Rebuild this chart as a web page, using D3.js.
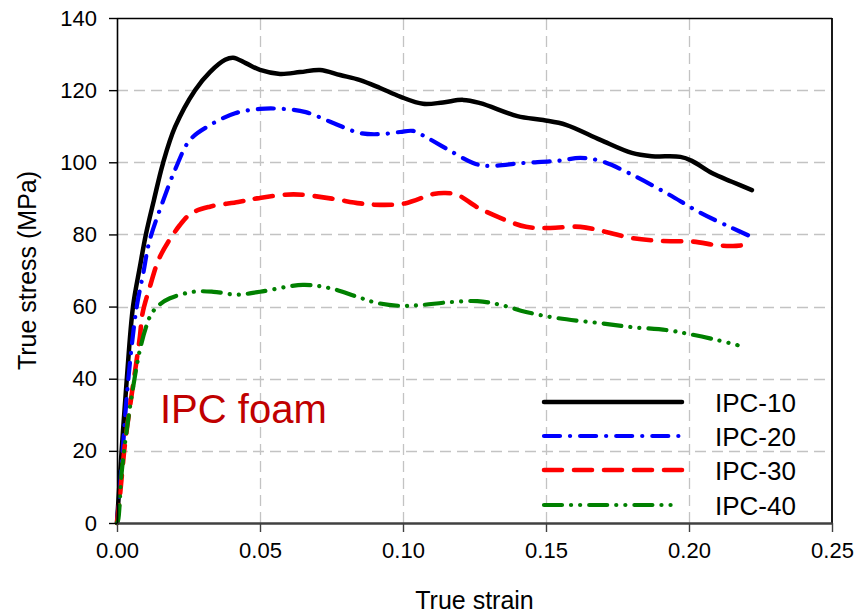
<!DOCTYPE html>
<html>
<head>
<meta charset="utf-8">
<script src="https://cdn.jsdelivr.net/npm/d3@7"></script>
<style>
  html, body { margin: 0; padding: 0; background: #fff; }
  svg { display: block; font-family: "Liberation Sans", Arial, sans-serif; }
</style>
</head>
<body>
<svg id="chart" width="856" height="615"></svg>
<script>
// Tensile true stress–strain curves for IPC foams
const seriesNames = ["IPC-10", "IPC-20", "IPC-30", "IPC-40"];

const strain10 = [0, 0.0016, 0.0034, 0.0056, 0.008, 0.0101, 0.0129, 0.0161, 0.0203, 0.0273, 0.0325, 0.0378, 0.0406, 0.045, 0.05, 0.057, 0.064, 0.071, 0.078, 0.085, 0.092, 0.099, 0.107, 0.114, 0.121, 0.127, 0.140, 0.149, 0.157, 0.169, 0.180, 0.187, 0.197, 0.201, 0.208, 0.215, 0.222];
const stress10 = [0, 19.8, 39.6, 60, 71, 80, 89.5, 99.8, 109.8, 120, 125, 128.4, 129, 127.5, 125.6, 124.5, 125.0, 125.6, 124.2, 122.8, 120.6, 118.2, 116.2, 116.6, 117.3, 116.4, 112.8, 111.7, 110.4, 106.2, 102.6, 101.7, 101.5, 100.4, 97, 94.6, 92.3];

const strain20 = [0, 0.0008, 0.002, 0.0032, 0.005, 0.0069, 0.0092, 0.0113, 0.0156, 0.0205, 0.0255, 0.0325, 0.0413, 0.05, 0.058, 0.066, 0.0756, 0.085, 0.092, 0.099, 0.1035, 0.108, 0.116, 0.1245, 0.129, 0.142, 0.154, 0.162, 0.169, 0.179, 0.192, 0.204, 0.215, 0.222];
const stress20 = [0, 8, 20, 33, 48, 60, 69.3, 78, 88.2, 98.3, 106.2, 110.3, 113.6, 114.8, 114.8, 113.9, 110.9, 108.1, 107.8, 108.4, 108.7, 107, 103.4, 99.8, 99, 99.8, 100.4, 101.2, 100.4, 97, 91.5, 86, 81.8, 79.3];

const strain30 = [0, 0.001, 0.0028, 0.0052, 0.008, 0.0089, 0.0115, 0.015, 0.022, 0.0261, 0.0325, 0.0424, 0.049, 0.0617, 0.0745, 0.085, 0.092, 0.1007, 0.1106, 0.1147, 0.119, 0.1258, 0.134, 0.143, 0.1514, 0.162, 0.171, 0.180, 0.190, 0.2015, 0.2098, 0.2154, 0.222];
const stress30 = [0, 7.3, 22, 36, 51.6, 58, 65.5, 73.8, 82.6, 85.9, 87.7, 89, 90, 91.1, 90, 88.6, 88.2, 88.6, 91.2, 91.5, 91, 87.6, 84.6, 82.1, 81.8, 82.1, 80.7, 79, 78.2, 78, 77, 76.8, 77.3];

const strain40 = [0, 0.0004, 0.0016, 0.0034, 0.0051, 0.008, 0.0104, 0.0121, 0.0148, 0.0185, 0.0267, 0.0337, 0.0418, 0.05, 0.065, 0.0745, 0.084, 0.091, 0.099, 0.106, 0.116, 0.126, 0.134, 0.143, 0.154, 0.169, 0.180, 0.192, 0.200, 0.210, 0.217];
const stress40 = [0, 0.8, 13.8, 25.8, 35, 48, 54.9, 58.1, 60.5, 62.3, 64.1, 64.1, 63.3, 64.1, 66, 65.1, 62.7, 61, 60.2, 60.4, 61.2, 61.5, 60.5, 58.5, 56.8, 55.4, 54.3, 53.5, 52.4, 50.7, 49.3];

const xTicks = [0, 0.05, 0.10, 0.15, 0.20, 0.25];
const yTicks = [0, 20, 40, 60, 80, 100, 120, 140];

const xLabel = "True strain";
const yLabel = "True stress (MPa)";
const noteText = "IPC foam";

// line styles for each series
const styles = [
  { color: "#000000", width: 4.5, dash: null },
  { color: "#0000ff", width: 4.2, dash: "16,10,0.1,10" },
  { color: "#ff0000", width: 4.6, dash: "18,12" },
  { color: "#008000", width: 4.2, dash: "18,9,0.1,9,0.1,9" }
];

const series = [
  d3.zip(strain10, stress10),
  d3.zip(strain20, stress20),
  d3.zip(strain30, stress30),
  d3.zip(strain40, stress40)
];

const svg = d3.select("#chart");
const plotL = 117, plotR = 832, plotT = 18, plotB = 523;

const x = d3.scaleLinear().domain([0, 0.25]).range([plotL, plotR]);
const y = d3.scaleLinear().domain([0, 140]).range([plotB, plotT]);

// grid
const grid = svg.append("g").attr("stroke", "#c3c3c3").attr("stroke-width", 1.3)
  .attr("stroke-dasharray", "11,6");
grid.selectAll("line.h").data(yTicks.filter(v => v > 0 && v < 140)).join("line")
  .attr("class", "h")
  .attr("x1", plotL).attr("x2", plotR)
  .attr("y1", d => Math.round(y(d)) + 0.5).attr("y2", d => Math.round(y(d)) + 0.5);
grid.selectAll("line.v").data(xTicks.filter(v => v > 0 && v < 0.25)).join("line")
  .attr("class", "v")
  .attr("y1", plotB).attr("y2", plotT)
  .attr("x1", d => Math.round(x(d)) + 0.5).attr("x2", d => Math.round(x(d)) + 0.5);

// curves
const line = d3.line().x(d => x(d[0])).y(d => y(d[1])).curve(d3.curveCatmullRom.alpha(0.5));
svg.append("g").selectAll("path").data(series).join("path")
  .attr("d", line)
  .attr("fill", "none")
  .attr("stroke", (d, i) => styles[i].color)
  .attr("stroke-width", (d, i) => styles[i].width)
  .attr("stroke-linecap", "round")
  .attr("stroke-linejoin", "round")
  .attr("stroke-dasharray", (d, i) => styles[i].dash);

// frame
svg.append("line").attr("x1", plotL).attr("x2", plotR).attr("y1", plotT + 0.5).attr("y2", plotT + 0.5)
  .attr("stroke", "#000").attr("stroke-width", 1.4);
svg.append("line").attr("x1", plotR).attr("x2", plotR).attr("y1", plotT).attr("y2", plotB)
  .attr("stroke", "#000").attr("stroke-width", 1.8);

// axes
const xAxis = d3.axisBottom(x).tickValues(xTicks).tickFormat(d3.format(".2f"))
  .tickSizeInner(9).tickSizeOuter(0).tickPadding(10);
const gx = svg.append("g").attr("transform", `translate(0,${plotB})`).call(xAxis);
gx.select(".domain").attr("stroke", "#404040").attr("stroke-width", 2.4);
gx.selectAll(".tick line").attr("stroke", "#404040").attr("stroke-width", 1.4);
gx.selectAll(".tick text").attr("font-size", 22).attr("fill", "#000")
  .attr("font-family", "'Liberation Sans', Arial, sans-serif");

const yAxis = d3.axisLeft(y).tickValues(yTicks).tickFormat(d3.format("d"))
  .tickSizeInner(8).tickSizeOuter(0).tickPadding(12);
const gy = svg.append("g").attr("transform", `translate(${plotL},0)`).call(yAxis);
gy.select(".domain").attr("stroke", "#000").attr("stroke-width", 1.6);
gy.selectAll(".tick line").attr("stroke", "#000").attr("stroke-width", 1.4);
gy.selectAll(".tick text").attr("font-size", 22).attr("fill", "#000")
  .attr("font-family", "'Liberation Sans', Arial, sans-serif");

// axis titles
svg.append("text").attr("x", (plotL + plotR) / 2).attr("y", 609)
  .attr("text-anchor", "middle").attr("font-size", 25).text(xLabel);
svg.append("text").attr("transform", `translate(36,${(plotT + plotB) / 2}) rotate(-90)`)
  .attr("text-anchor", "middle").attr("font-size", 25).text(yLabel);

// annotation
svg.append("text").attr("x", 160).attr("y", 423).attr("font-size", 40)
  .attr("fill", "#c00000").text(noteText);

// legend
const lg = svg.append("g");
const legY = [402, 436, 470, 505];
seriesNames.forEach((name, i) => {
  lg.append("line").attr("x1", 544).attr("x2", i === 3 ? 673 : 682)
    .attr("y1", legY[i]).attr("y2", legY[i])
    .attr("stroke", styles[i].color).attr("stroke-width", styles[i].width)
    .attr("stroke-linecap", "round")
    .attr("stroke-dasharray", styles[i].dash);
  lg.append("text").attr("x", 715).attr("y", legY[i] + 10)
    .attr("font-size", 26).text(name);
});
</script>
</body>
</html>
